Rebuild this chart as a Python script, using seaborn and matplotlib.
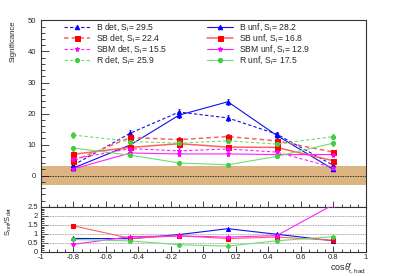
import numpy as np
import pandas as pd
import seaborn as sns
import matplotlib
matplotlib.use('Agg')
import matplotlib.pyplot as plt
from matplotlib.ticker import MultipleLocator

# bin centres of cos theta*_{t,had}
bins = [-0.8, -0.45, -0.15, 0.15, 0.45, 0.8]

names = ['B', 'SB', 'SBM', 'R']
sig_det = {
    'B':   [3.4, 13.7, 20.5, 18.6, 13.4, 3.3],
    'SB':  [4.8, 12.3, 11.6, 12.6, 11.2, 7.6],
    'SBM': [5.4, 8.7, 8.0, 8.6, 7.6, 2.6],
    'R':   [13.1, 11.0, 10.5, 11.2, 10.2, 12.6],
}
sig_unf = {
    'B':   [2.5, 9.9, 19.5, 23.8, 13.0, 2.0],
    'SB':  [6.9, 9.1, 10.3, 9.2, 9.1, 4.8],
    'SBM': [2.2, 7.3, 7.0, 7.0, 6.8, 6.8],
    'R':   [8.9, 6.6, 4.1, 3.5, 6.2, 10.5],
}
err_det = {
    'B':   [0.6, 1.0, 1.0, 0.9, 0.8, 0.5],
    'SB':  [0.5, 0.7, 0.7, 0.7, 0.7, 0.6],
    'SBM': [0.5, 0.8, 0.8, 0.8, 0.8, 0.5],
    'R':   [0.9, 0.7, 0.7, 0.7, 0.7, 0.9],
}
err_unf = {
    'B':   [0.5, 0.8, 1.0, 1.0, 0.9, 0.4],
    'SB':  [0.5, 0.6, 0.6, 0.6, 0.6, 0.5],
    'SBM': [0.5, 0.7, 0.7, 0.7, 0.7, 0.6],
    'R':   [0.8, 0.6, 0.5, 0.5, 0.6, 0.8],
}
total_det = {'B': 29.5, 'SB': 22.4, 'SBM': 15.5, 'R': 25.9}
total_unf = {'B': 28.2, 'SB': 16.8, 'SBM': 12.9, 'R': 17.5}

colors = {'B': '#1010ee', 'SB': '#ff6060', 'SBM': '#ff22ff', 'R': '#70dd70'}
mcolors = {'B': '#0000ff', 'SB': '#ff0000', 'SBM': '#ff00ff', 'R': '#44cc44'}
markers = {'B': '^', 'SB': 's', 'SBM': '*', 'R': 'o'}
msizes = {'B': 3.2, 'SB': 3.6, 'SBM': 3.6, 'R': 3.0}
lwidths = {'B': 0.8, 'SB': 1.1, 'SBM': 0.8, 'R': 0.8}

band = (-3.0, 3.0)

sns.set_style('ticks')
plt.rcParams['font.family'] = ['Liberation Sans', 'DejaVu Sans']
plt.rcParams['mathtext.fontset'] = 'custom'
plt.rcParams['mathtext.rm'] = 'Liberation Sans'
plt.rcParams['mathtext.it'] = 'Liberation Sans:italic'
plt.rcParams['axes.linewidth'] = 0.8

fig = plt.figure(figsize=(4.07, 2.76), dpi=100)
ax = fig.add_axes([0.1007, 0.251, 0.7985, 0.675])
rx = fig.add_axes([0.1007, 0.088, 0.7985, 0.163])

ax.axhspan(*band, color='#dcb482', lw=0, zorder=0)
ax.axhline(0, color='black', ls=(0, (1, 1)), lw=0.6, zorder=1)

det_handles, unf_handles = [], []
for n in names:
    df_det = pd.DataFrame({'x': bins, 'y': sig_det[n]})
    df_unf = pd.DataFrame({'x': bins, 'y': sig_unf[n]})
    ax.errorbar(bins, sig_det[n], yerr=err_det[n], fmt='none',
                ecolor=mcolors[n], elinewidth=0.6, capsize=1, capthick=0.6, zorder=3)
    ax.errorbar(bins, sig_unf[n], yerr=err_unf[n], fmt='none',
                ecolor=mcolors[n], elinewidth=0.6, capsize=1, capthick=0.6, zorder=3)
    sns.lineplot(data=df_det, x='x', y='y', ax=ax, color=colors[n],
                 linestyle=(0, (3, 2)), lw=lwidths[n], marker=markers[n],
                 markersize=msizes[n], markerfacecolor=mcolors[n],
                 markeredgecolor=mcolors[n], zorder=4)
    sns.lineplot(data=df_unf, x='x', y='y', ax=ax, color=colors[n],
                 linestyle='-', lw=lwidths[n], marker=markers[n],
                 markersize=msizes[n], markerfacecolor=mcolors[n],
                 markeredgecolor=mcolors[n], zorder=4)
    lines = ax.get_lines()
    det_handles.append(lines[-2])
    unf_handles.append(lines[-1])

    ratio = pd.DataFrame({'x': bins,
                          'y': np.array(sig_unf[n]) / np.array(sig_det[n])})
    sns.lineplot(data=ratio, x='x', y='y', ax=rx, color=colors[n], lw=0.8,
                 marker=markers[n], markersize=msizes[n] * 0.9,
                 markerfacecolor=mcolors[n], markeredgecolor=mcolors[n],
                 zorder=4, clip_on=True)

det_labels = [f'{n} det, S$_{{\\mathrm{{i}}}}$= {total_det[n]}' for n in names]
unf_labels = [f'{n} unf, S$_{{\\mathrm{{i}}}}$= {total_unf[n]}' for n in names]
leg_kw = dict(loc='upper left', frameon=False, fontsize=6.2, borderpad=0,
              borderaxespad=0, handlelength=3.0, handletextpad=0.7,
              labelspacing=-0.12)
leg1 = ax.legend(det_handles, det_labels, bbox_to_anchor=(0.072, 0.995), **leg_kw)
ax.add_artist(leg1)
ax.legend(unf_handles, unf_labels, bbox_to_anchor=(0.512, 0.995), **leg_kw)

# top panel axes
ax.set_xlim(-1, 1)
ax.set_ylim(-10, 50)
ax.set_xlabel('')
ax.set_ylabel('Significance', fontsize=5.5, loc='top', labelpad=8)
ax.set_yticks([0, 10, 20, 30, 40, 50])
ax.yaxis.set_minor_locator(MultipleLocator(2))
ax.xaxis.set_major_locator(MultipleLocator(0.2))
ax.xaxis.set_minor_locator(MultipleLocator(0.05))
ax.tick_params(axis='both', which='both', direction='in', labelsize=5.5, width=0.6)
ax.tick_params(axis='y', which='major', length=6)
ax.tick_params(axis='y', which='minor', length=3)
ax.tick_params(axis='x', which='major', length=4, labelbottom=False)
ax.tick_params(axis='x', which='minor', length=2)
for s in ax.spines.values():
    s.set_color('#333333')

# ratio panel
for yv in [0.5, 1.0, 1.5, 2.0]:
    rx.axhline(yv, color='#888888', ls=(0, (1, 1)), lw=0.6, zorder=1)
rx.set_xlim(-1, 1)
rx.set_ylim(0, 2.5)
rx.set_xlabel('cos$\\theta$$^{*}_{\\mathrm{t,had}}$', fontsize=6.5, loc='right',
              labelpad=0)
rx.set_ylabel('S$_{\\mathrm{unf}}$/S$_{\\mathrm{det}}$', fontsize=5.5, loc='top',
              labelpad=10)
rx.set_yticks([0, 0.5, 1, 1.5, 2, 2.5])
rx.set_yticklabels(['0', '0.5', '1', '1.5', '2', '2.5'])
rx.yaxis.set_minor_locator(MultipleLocator(0.1))
rx.xaxis.set_minor_locator(MultipleLocator(0.05))
rx.set_xticks([-1, -0.8, -0.6, -0.4, -0.2, 0, 0.2, 0.4, 0.6, 0.8, 1])
rx.set_xticklabels(['-1', '-0.8', '-0.6', '-0.4', '-0.2', '0', '0.2', '0.4',
                    '0.6', '0.8', '1'])
rx.tick_params(axis='both', which='both', direction='in', labelsize=5.5,
               width=0.6, pad=2)
rx.tick_params(axis='x', which='major', length=4)
rx.tick_params(axis='x', which='minor', length=2)
rx.tick_params(axis='y', which='major', length=5)
rx.tick_params(axis='y', which='minor', length=2.5)
for s in rx.spines.values():
    s.set_color('#333333')

fig.savefig('out.png', dpi=100)
